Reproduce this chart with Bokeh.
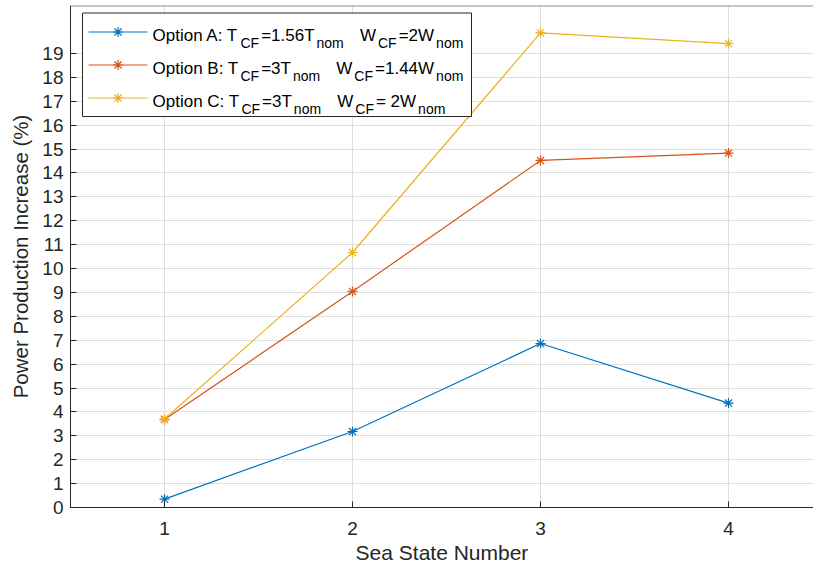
from bokeh.plotting import figure
from bokeh.models import Range1d, FixedTicker, Label, Span
from bokeh.embed import file_html
from bokeh.resources import INLINE

# ---- data ----
sea_state = [1, 2, 3, 4]
option_a = [0.35, 3.18, 6.86, 4.37]
option_b = [3.68, 9.04, 14.52, 14.83]
option_c = [3.70, 10.67, 19.86, 19.41]
x_ticks = [1, 2, 3, 4]
y_ticks = list(range(0, 20))
x_label = "Sea State Number"
y_label = "Power Production Increase (%)"
colors = ["#0072BD", "#D95319", "#EDB120"]
series = [option_a, option_b, option_c]
# legend rows: (text, is_subscript)
legend_rows = [
    [("Option A: T", 0), ("CF", 1), ("=1.56T", 0), ("nom", 1), ("   W", 0), ("CF", 1), ("=2W", 0), ("nom", 1)],
    [("Option B: T", 0), ("CF", 1), ("=3T", 0), ("nom", 1), ("   W", 0), ("CF", 1), ("=1.44W", 0), ("nom", 1)],
    [("Option C: T", 0), ("CF", 1), ("=3T", 0), ("nom", 1), ("   W", 0), ("CF", 1), ("= 2W", 0), ("nom", 1)],
]

# ---- layout ----
W, H = 813, 566
FL, FT = 70, 5
FW, FH = 743, 502
X0, X1 = 0.5, 0.5 + FW / 188.0
Y0, Y1 = 0.0, FH / 23.9
FONT = "Liberation Sans"
AX = "#262626"


def dx(px):
    return X0 + (px - FL) * (X1 - X0) / FW


def dy(py):
    return Y1 - (py - FT) * (Y1 - Y0) / FH


p = figure(width=W, height=H, x_range=Range1d(X0, X1), y_range=Range1d(Y0, Y1),
           output_backend="svg", toolbar_location=None,
           min_border_left=FL, min_border_right=0, min_border_top=FT,
           min_border_bottom=H - FT - FH)
p.outline_line_color = None
p.background_fill_color = "white"
p.border_fill_color = "white"

for ax in (p.xaxis[0], p.yaxis[0]):
    ax.axis_line_color = AX
    ax.axis_line_width = 1
    ax.major_tick_line_color = AX
    ax.major_tick_in = 6
    ax.major_tick_out = 0
    ax.minor_tick_line_color = None
    ax.major_label_text_font = FONT
    ax.major_label_text_font_size = "19px"
    ax.major_label_text_color = AX
    ax.axis_label_text_font = FONT
    ax.axis_label_text_font_style = "normal"
    ax.axis_label_text_color = AX

p.xaxis.ticker = FixedTicker(ticks=x_ticks)
p.yaxis.ticker = FixedTicker(ticks=y_ticks)
p.xaxis.major_label_standoff = 14
p.xaxis.axis_label = x_label
p.xaxis.axis_label_text_font_size = "21px"
p.xaxis.axis_label_standoff = 3
p.yaxis.major_label_standoff = 7
p.yaxis.axis_label = y_label
p.yaxis.axis_label_text_font_size = "20.5px"
p.yaxis.axis_label_standoff = 7

p.xgrid.ticker = FixedTicker(ticks=x_ticks)
p.ygrid.ticker = FixedTicker(ticks=y_ticks)
for g in (p.xgrid[0], p.ygrid[0]):
    g.grid_line_color = "#dedede"
    g.grid_line_width = 1

p.add_layout(Span(location=Y1, dimension="width", line_color="#8c8c8c", line_width=2))

# data
for ys, c in zip(series, colors):
    p.line(sea_state, ys, line_color=c, line_width=1.2)
    p.scatter(sea_state, ys, marker="asterisk", size=10, line_color=c, line_width=1.2)

# legend box
p.quad(left=[dx(82)], right=[dx(471)], top=[dy(12.5)], bottom=[dy(116)],
       fill_color="white", line_color=AX, line_width=1)

ADV = {' ': 278, ':': 278, '=': 584, '.': 278, 'A': 667, 'B': 667, 'C': 722, 'F': 611,
       'O': 778, 'T': 611, 'W': 944, 'n': 556, 'o': 556, 'm': 833, 'p': 556, 't': 278, 'i': 222}
for d in "0123456789":
    ADV[d] = 556
MAIN, SUB = 17, 14

for i, (row, c) in enumerate(zip(legend_rows, colors)):
    base = 34.7 + 33 * i
    ly = base - 3.2
    p.line([dx(88), dx(147)], [dy(ly), dy(ly)], line_color=c, line_width=1.2)
    p.scatter([dx(117.5)], [dy(ly)], marker="asterisk", size=10, line_color=c, line_width=1.2)
    x = 152.0
    for text, sub in row:
        fs = SUB if sub else MAIN
        yb = base + 8 if sub else base
        lead = len(text) - len(text.lstrip(" "))
        x += lead * ADV[" "] * fs / 1000.0
        t = text.lstrip(" ")
        p.add_layout(Label(x=dx(x), y=dy(yb), text=t, text_baseline="alphabetic",
                           text_font=FONT, text_font_size=f"{fs}px", text_color="#000000"))
        x += sum(ADV.get(ch, 556) for ch in t) * fs / 1000.0 + 2

open("out.html", "w").write(file_html(p, INLINE))
